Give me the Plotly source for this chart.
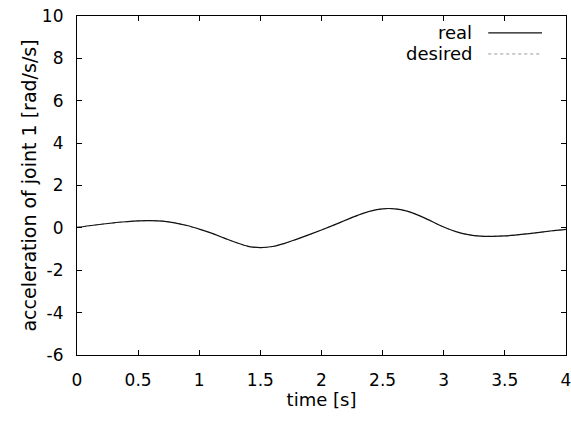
import plotly.graph_objects as go

time_s = [0.0, 0.1, 0.2, 0.3, 0.4, 0.5, 0.6, 0.7, 0.8, 0.9, 1.0,
          1.1, 1.2, 1.3, 1.4, 1.5, 1.6, 1.7, 1.8, 1.9, 2.0,
          2.1, 2.2, 2.3, 2.4, 2.5, 2.6, 2.7, 2.8, 2.9, 3.0,
          3.1, 3.2, 3.3, 3.4, 3.5, 3.6, 3.7, 3.8, 3.9, 4.0]
real = [0.02, 0.10, 0.17, 0.24, 0.29, 0.33, 0.34, 0.32, 0.24, 0.11, -0.06,
        -0.25, -0.47, -0.69, -0.87, -0.93, -0.88, -0.73, -0.53, -0.32, -0.10,
        0.13, 0.37, 0.60, 0.79, 0.90, 0.90, 0.79, 0.58, 0.31, 0.04,
        -0.18, -0.32, -0.39, -0.40, -0.38, -0.33, -0.27, -0.20, -0.13, -0.07]
desired = [0.02, 0.10, 0.17, 0.24, 0.29, 0.33, 0.34, 0.32, 0.24, 0.11, -0.06,
           -0.25, -0.47, -0.69, -0.87, -0.93, -0.88, -0.73, -0.53, -0.32, -0.10,
           0.13, 0.37, 0.60, 0.79, 0.90, 0.90, 0.79, 0.58, 0.31, 0.04,
           -0.18, -0.32, -0.39, -0.40, -0.38, -0.33, -0.27, -0.20, -0.13, -0.07]
x_ticks = [0, 0.5, 1, 1.5, 2, 2.5, 3, 3.5, 4]
x_tick_labels = ["0", "0.5", "1", "1.5", "2", "2.5", "3", "3.5", "4"]
y_ticks = [-6, -4, -2, 0, 2, 4, 6, 8, 10]
y_tick_labels = ["-6", "-4", "-2", "0", "2", "4", "6", "8", "10"]
series_names = ["real", "desired"]

FONT = "DejaVu Sans"
fig = go.Figure()
fig.add_trace(go.Scatter(x=time_s, y=desired, mode="lines", name=series_names[1],
                         line=dict(color="#999999", width=1, dash="dot", shape="spline"),
                         showlegend=False))
fig.add_trace(go.Scatter(x=time_s, y=real, mode="lines", name=series_names[0],
                         line=dict(color="#111111", width=1.2, shape="spline"),
                         showlegend=False))

axis_common = dict(showgrid=False, zeroline=False, showline=True, linecolor="black",
                   linewidth=1.2, mirror="ticks", ticks="inside", ticklen=5,
                   tickcolor="black", ticklabeloverflow="allow",
                   tickfont=dict(family=FONT, size=17, color="black"))
fig.update_xaxes(range=[0, 4.0005], tickvals=x_ticks, ticktext=x_tick_labels,
                 ticklabelstandoff=9,
                 title=dict(text="time [s]", font=dict(family=FONT, size=18, color="black"),
                            standoff=1),
                 **axis_common)
fig.update_yaxes(range=[-6, 10], tickvals=y_ticks, ticktext=y_tick_labels,
                 ticklabelstandoff=9,
                 title=dict(text="acceleration of joint 1 [rad/s/s]",
                            font=dict(family=FONT, size=19, color="black"), standoff=0),
                 **axis_common)

# gnuplot-style key: text right-aligned, sample line to the right
key_rows = [(0.950, series_names[0], dict(color="#111111", width=1.2)),
            (0.888, series_names[1], dict(color="#999999", width=1, dash="dot"))]
for yp, name, ln in key_rows:
    fig.add_annotation(x=0.812, y=yp, xref="paper", yref="paper", text=name,
                       showarrow=False, xanchor="right", yanchor="middle",
                       font=dict(family=FONT, size=18, color="black"))
    fig.add_shape(type="line", xref="paper", yref="paper", x0=0.841, x1=0.951,
                  y0=yp, y1=yp, line=ln)

fig.update_layout(width=571, height=421, plot_bgcolor="white", paper_bgcolor="white",
                  margin=dict(l=77, r=5, t=16, b=66, autoexpand=False))
fig.write_html("out.html")
